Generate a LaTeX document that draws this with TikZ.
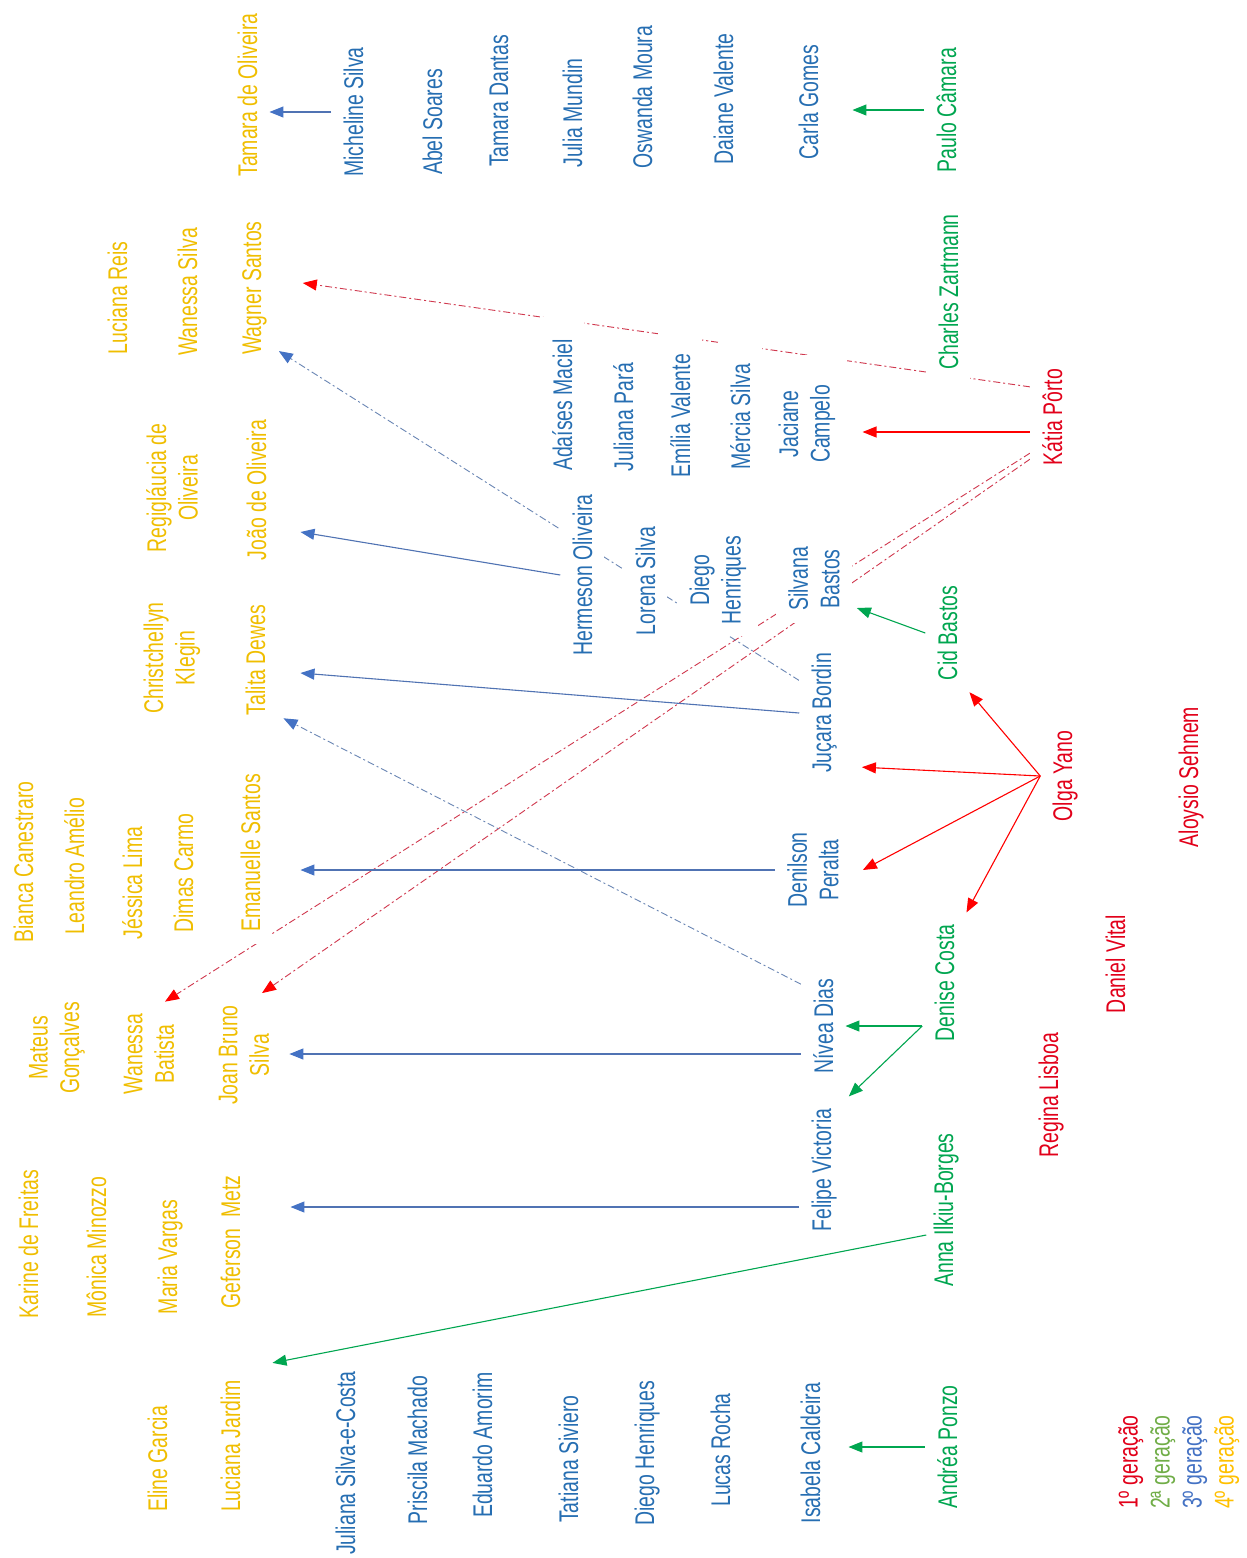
\documentclass[tikz,border=0pt]{standalone}
\usepackage{fontspec}
\setmainfont{Liberation Sans}[FakeStretch=0.72]
\usepackage{tikz}
\usetikzlibrary{calc, arrows.meta}
\pgfdeclarelayer{background}
\pgfsetlayers{background,main}

\definecolor{cor1}{HTML}{E2001A}
\definecolor{cor2}{HTML}{00A650}
\definecolor{cor3}{HTML}{266EB2}
\definecolor{cor4}{HTML}{F0BE00}
\definecolor{leg2}{HTML}{70AD47}
\definecolor{leg3}{HTML}{4472C4}
\definecolor{leg4}{HTML}{FFC000}
\definecolor{linhaAz}{HTML}{5073B3}
\definecolor{cabAz}{HTML}{4472C4}
\definecolor{linhaVm}{HTML}{D0384E}
\definecolor{linhaTz}{HTML}{6A86B4}

\newcommand{\fonteNome}{\fontsize{27}{31.5}\selectfont}

\begin{document}
\begin{tikzpicture}[x=1pt, y=-1pt,
    nome/.style={rotate=90, font=\fonteNome, fill=white, inner xsep=12pt, inner ysep=12pt, align=center},
    ger1/.style={nome, text=cor1},
    ger2/.style={nome, text=cor2},
    ger3/.style={nome, text=cor3},
    ger4/.style={nome, text=cor4},
    seta/.style={line width=1.1pt},
    setaAz/.style={seta, draw=linhaAz, -{Triangle[length=14pt, width=11pt, color=cabAz]}},
    setaVd/.style={seta, draw=cor2, -{Triangle[length=14pt, width=11pt]}},
    setaVm/.style={seta, draw=red, -{Triangle[length=14pt, width=11pt]}},
    tracoVm/.style={line width=0.9pt, draw=linhaVm, dash pattern=on 7pt off 3pt on 2pt off 3pt, -{Triangle[length=14pt, width=11pt, color=red]}},
    tracoAz/.style={line width=0.9pt, draw=linhaTz, dash pattern=on 7pt off 3pt on 2pt off 3pt, -{Triangle[length=14pt, width=11pt, color=cabAz]}}]
    \useasboundingbox (0,0) rectangle (1247,1558);

    % 4ª geração (amarelo)
    \node[ger4, anchor=base] (tamOli) at (257,95) {Tamara de Oliveira};
    \node[ger4, anchor=base] (lucReis) at (127,298) {Luciana Reis};
    \node[ger4, anchor=base] (wanSil) at (197,292) {Wanessa Silva};
    \node[ger4, anchor=base] (wagner) at (261,288) {Wagner Santos};
    \node[ger4] (regi) at (172,488) {Regigláucia de\\Oliveira};
    \node[ger4, anchor=base] (joao) at (266,490) {João de Oliveira};
    \node[ger4] (christ) at (172,658) {Christchellyn\\Klegin};
    \node[ger4, anchor=base] (talita) at (265,660) {Talita Dewes};
    \node[ger4, anchor=base] (bianca) at (33,862) {Bianca Canestraro};
    \node[ger4, anchor=base] (leandro) at (84,866) {Leandro Amélio};
    \node[ger4, anchor=base] (jessica) at (142,883) {Jéssica Lima};
    \node[ger4, anchor=base] (dimas) at (193,873) {Dimas Carmo};
    \node[ger4, anchor=base] (emanuelle) at (260,853) {Emanuelle Santos};
    \node[ger4] (mateus) at (57,1048) {Mateus\\Gonçalves};
    \node[ger4] (wanBat) at (149,1054) {Wanessa\\Batista};
    \node[ger4] (joan) at (244,1055) {Joan Bruno\\Silva};
    \node[ger4, anchor=base] (karine) at (38,1244) {Karine de Freitas};
    \node[ger4, anchor=base] (monica) at (106,1247) {Mônica Minozzo};
    \node[ger4, anchor=base] (maria) at (177,1257) {Maria Vargas};
    \node[ger4, anchor=base] (geferson) at (240,1242) {Geferson~ Metz};
    \node[ger4, anchor=base] (eline) at (167,1459) {Eline Garcia};
    \node[ger4, anchor=base] (lucJar) at (240,1446) {Luciana Jardim};

    % 3ª geração (azul)
    \node[ger3, anchor=base] (mic) at (363,112) {Micheline Silva};
    \node[ger3, anchor=base] (abel) at (442,122) {Abel Soares};
    \node[ger3, anchor=base] (tamDan) at (508,101) {Tamara Dantas};
    \node[ger3, anchor=base] (julia) at (582,113) {Julia Mundin};
    \node[ger3, anchor=base] (oswanda) at (652,97) {Oswanda Moura};
    \node[ger3, anchor=base] (daiane) at (733,99) {Daiane Valente};
    \node[ger3, anchor=base] (carla) at (818,102) {Carla Gomes};
    \node[ger3, anchor=base, inner xsep=22pt] (adaises) at (572,405) {Adaíses Maciel};
    \node[ger3, anchor=base] (julPara) at (633,417) {Juliana Pará};
    \node[ger3, anchor=base, inner xsep=22pt] (emilia) at (690,416) {Emília Valente};
    \node[ger3, anchor=base, inner xsep=22pt] (mercia) at (750,417) {Mércia Silva};
    \node[ger3, inner xsep=30pt] (jaciane) at (807,424) {Jaciane\\Campelo};
    \node[ger3, anchor=base] (hermeson) at (592,575) {Hermeson Oliveira};
    \node[ger3, anchor=base] (lorena) at (655,581) {Lorena Silva};
    \node[ger3] (diego) at (718,580) {Diego\\Henriques};
    \node[ger3] (silvana) at (814,579) {Silvana\\Bastos};
    \node[ger3, anchor=base] (jucara) at (831,713) {Juçara Bordin};
    \node[ger3] (denilson) at (813,870) {Denilson\\Peralta};
    \node[ger3, anchor=base] (nivea) at (833,1026) {Nívea Dias};
    \node[ger3, anchor=base] (felipe) at (831,1170) {Felipe Victoria};
    \node[ger3, anchor=base] (julSC) at (355,1463) {Juliana Silva-e-Costa};
    \node[ger3, anchor=base] (priscila) at (427,1450) {Priscila Machado};
    \node[ger3, anchor=base] (eduardo) at (492,1445) {Eduardo Amorim};
    \node[ger3, anchor=base] (tatiana) at (578,1459) {Tatiana Siviero};
    \node[ger3, anchor=base] (diegoH) at (654,1453) {Diego Henriques};
    \node[ger3, anchor=base] (lucas) at (730,1450) {Lucas Rocha};
    \node[ger3, anchor=base] (isabela) at (820,1453) {Isabela Caldeira};

    % 2ª geração (verde)
    \node[ger2, anchor=base] (paulo) at (956,110) {Paulo Câmara};
    \node[ger2, anchor=base] (charles) at (958,292) {Charles Zartmann};
    \node[ger2, anchor=base] (cid) at (957,633) {Cid Bastos};
    \node[ger2, anchor=base] (denise) at (954,983) {Denise Costa};
    \node[ger2, anchor=base] (anna) at (953,1210) {Anna Ilkiu-Borges};
    \node[ger2, anchor=base] (andrea) at (957,1447) {Andréa Ponzo};

    % 1ª geração (vermelho)
    \node[ger1, anchor=base] (katia) at (1062,417) {Kátia Pôrto};
    \node[ger1, anchor=base] (olga) at (1072,776) {Olga Yano};
    \node[ger1, anchor=base] (aloysio) at (1198,777) {Aloysio Sehnem};
    \node[ger1, anchor=base] (daniel) at (1125,964) {Daniel Vital};
    \node[ger1, anchor=base] (regina) at (1058,1095) {Regina Lisboa};

    % legenda
    \node[rotate=90, font=\fontsize{27}{32}\selectfont, align=left, inner sep=0pt, anchor=north west] (legenda) at (1118,1509)
        {\textcolor{cor1}{1º geração}\\\textcolor{leg2}{2ª geração}\\\textcolor{leg3}{3º geração}\\\textcolor{leg4}{4º geração}};

    % linhas tracejadas: por trás dos nomes
    \begin{pgfonlayer}{background}
        \fill[white] (0,0) rectangle (1247,1558);
        \draw[tracoVm] ($(katia.north)!.5!(katia.north east)$) -- ($(wagner.south)+(24,-5)$);
        \draw[tracoVm] ($(katia.north)!.6!(katia.north west)$) -- ($(wanBat.east)+(16,0)$);
        \draw[tracoVm] ($(katia.north)!.7!(katia.north west)$) -- ($(joan.east)+(18,0)$);
        \draw[tracoAz] ($(jucara.north)!.45!(jucara.north east)$) -- ($(wagner.south)!.8!(wagner.south west)$);
        \draw[tracoAz] ($(nivea.north)!.7!(nivea.north east)$) -- ($(talita.south west)+(6,-9)$);
    \end{pgfonlayer}

    % setas azuis
    \draw[setaAz] (mic.north) -- (mic.north -| tamOli.south);
    \draw[setaAz] (hermeson.north) -- ($(joao.south)+(22,42)$);
    \draw[setaAz] (jucara.north) -- ($(talita.south)+(23,13)$);
    \draw[setaAz] (denilson.north) -- ($(denilson.north -| emanuelle.south)+(28,0)$);
    \draw[setaAz] ($(nivea.north)+(0,28)$) -- ($(nivea.north -| joan.south)+(8,28)$);
    \draw[setaAz] ($(felipe.north)+(0,37)$) -- ($(felipe.north -| geferson.south)+(38,37)$);

    % setas verdes
    \draw[setaVd] (paulo.north) -- ($(paulo.north -| carla.south)+(22,0)$);
    \draw[setaVd] (cid.north) -- ($(silvana.south)+(5,29)$);
    \draw[setaVd] (denise.north |- nivea.south) -- (nivea.south);
    \draw[setaVd] (denise.north |- nivea.south) -- (felipe.south east);
    \draw[setaVd] ($(anna.north)+(5,25)$) -- ($(lucJar.south east)+(20,-5)$);
    \draw[setaVd] (andrea.north) -- ($(andrea.north -| isabela.south)+(16,0)$);

    % setas vermelhas
    \draw[setaVm] ($(katia.north)+(0,15)$) -- ($(katia.north -| jaciane.south)+(15,15)$);
    \draw[setaVm] (olga.north) -- (cid.south west);
    \draw[setaVm] (olga.north) -- ($(jucara.south west)+(13,-18)$);
    \draw[setaVm] (olga.north) -- ($(denilson.south)+(12,0)$);
    \draw[setaVm] (olga.north) -- (denise.south east);
\end{tikzpicture}
\end{document}
